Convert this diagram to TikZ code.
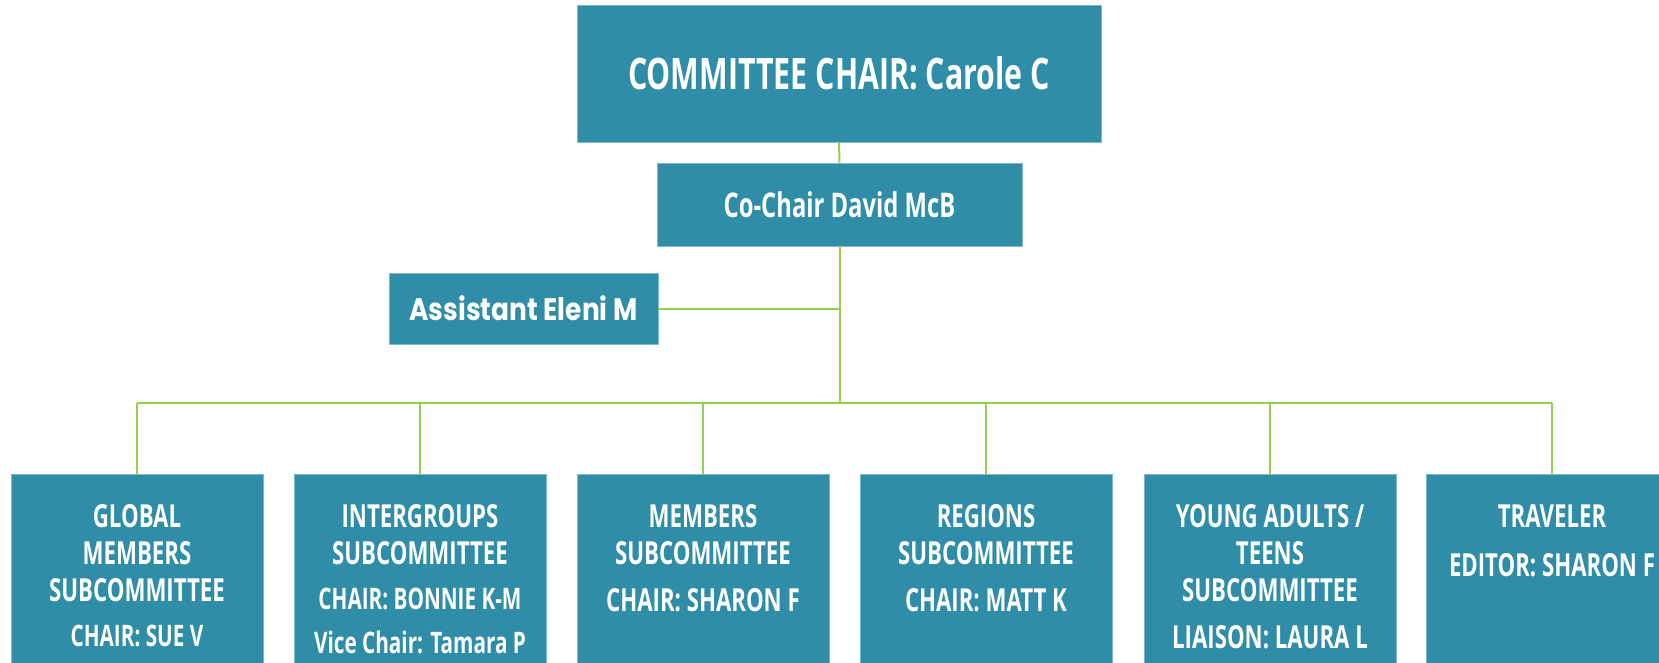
\documentclass[tikz,border=0pt]{standalone}
\usepackage{fontspec}
\usetikzlibrary{positioning}
\newfontfamily\condfont[FakeStretch=0.70]{Open Sans}
\newfontfamily\geofont[FakeStretch=0.85]{Poppins}
\definecolor{boxteal}{RGB}{47,141,168}
\definecolor{boxedge}{RGB}{125,185,205}
\definecolor{linegreen}{RGB}{146,208,80}

\tikzstyle{tealbox} = [rectangle, fill=boxteal, draw=boxedge, line width=0.6pt, text=white, inner sep=0pt, align=center]
\tikzstyle{chairbox} = [tealbox, minimum width=393pt, minimum height=102.75pt, font=\condfont\bfseries\fontsize{32.5}{38}\selectfont]
\tikzstyle{cochairbox} = [tealbox, minimum width=273.75pt, minimum height=62.25pt, font=\condfont\bfseries\fontsize{25.5}{30}\selectfont]
\tikzstyle{assistbox} = [tealbox, minimum width=201.75pt, minimum height=53.25pt, font=\geofont\bfseries\fontsize{23.3}{28}\selectfont]
\tikzstyle{subbox} = [tealbox, anchor=north, minimum width=189pt, minimum height=180pt]
\tikzstyle{subtext} = [text=white, inner sep=0pt, align=center, font=\condfont\bfseries\fontsize{23.8}{27.75}\selectfont]
\tikzstyle{link} = [draw=linegreen, line width=1.5pt]
\newcommand{\smallline}{\fontsize{22.2}{27}\selectfont}

\begin{document}
\begin{tikzpicture}[x=0.75pt, y=-0.75pt, node distance=23pt]
\clip (0,0) rectangle (1659,663);

\node (chair) [chairbox] at (839,73.5) {COMMITTEE CHAIR: Carole C};
\node (cochair) [cochairbox] at (839.5,204.5) {Co-Chair David McB};
\node (assistant) [assistbox] at (523.5,308.5) {Assistant Eleni M};

\coordinate (busL) at (137,403);
\coordinate (busR) at (1552,403);

% subcommittees
\node (global) [subbox] at (137,474) {};
\node (intergroups) [subbox] at (420,474) {};
\node (members) [subbox] at (703,474) {};
\node (regions) [subbox] at (986,474) {};
\node (youth) [subbox] at (1270,474) {};
\node (traveler) [subbox] at (1552,474) {};

\node (globaltext) [subtext, below=of global.north] {GLOBAL\\MEMBERS\\SUBCOMMITTEE\\[6pt]{\smallline CHAIR: SUE V}};
\node (intergroupstext) [subtext, below=of intergroups.north] {INTERGROUPS\\SUBCOMMITTEE\\[6pt]{\smallline CHAIR: BONNIE K-M}\\[5pt]{\smallline Vice Chair: Tamara P}};
\node (memberstext) [subtext, below=of members.north] {MEMBERS\\SUBCOMMITTEE\\[7.5pt]CHAIR: SHARON F};
\node (regionstext) [subtext, below=of regions.north] {REGIONS\\SUBCOMMITTEE\\[7.5pt]CHAIR: MATT K};
\node (youthtext) [subtext, below=of youth.north] {YOUNG ADULTS /\\TEENS\\SUBCOMMITTEE\\[7.5pt]LIAISON: LAURA L};
\node (travelertext) [subtext, below=of traveler.north] {TRAVELER\\[9pt]EDITOR: SHARON F};

\draw[link] (chair.south) -- (cochair.north);
\draw[link] (cochair.south) -- (cochair.south |- busL);
\draw[link] (assistant.east) -- (assistant.east -| cochair.south);
\draw[link] (busL) -- (busR);
\foreach \n in {global,intergroups,members,regions,youth,traveler}
  \draw[link] (\n.north) -- (\n.north |- busL);

\end{tikzpicture}
\end{document}
